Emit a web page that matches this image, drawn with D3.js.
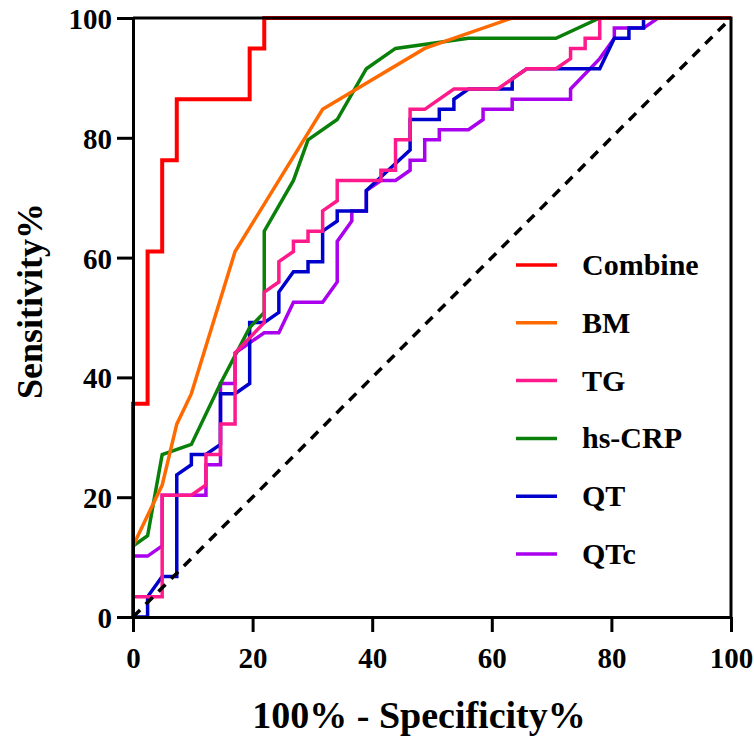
<!DOCTYPE html>
<html>
<head>
<meta charset="utf-8">
<script src="https://cdn.jsdelivr.net/npm/d3@7"></script>
<style>
    body { margin: 0; background: #fff; }
    svg { display: block; font-family: "Liberation Serif", "Times New Roman", serif; font-weight: bold; }
</style>
</head>
<body>
<div id="chart"></div>
<script>
// ROC points: [100% - specificity, sensitivity]
const combinePts = [[0,0],[0,35.59],[2.44,35.59],[2.44,61.02],[4.88,61.02],[4.88,76.27],[7.32,76.27],[7.32,86.44],
    [19.51,86.44],[19.51,94.92],[21.95,94.92],[21.95,100],[100,100]];

const bmPts = [[0,11.86],[4.88,22.03],[7.32,32.2],[9.76,37.29],[17.07,61.02],[31.71,84.75],[48.78,94.92],[63.41,100],[100,100]];

const tgPts = [[0,0],[0,3.39],[4.88,3.39],[4.88,20.34],[9.76,20.34],[12.2,22.03],[12.2,27.12],[14.63,27.12],[14.63,32.2],
    [17.07,32.2],[17.07,44.07],[21.95,49.15],[21.95,54.24],[24.39,55.93],[24.39,59.32],[26.83,61.02],[26.83,62.71],
    [29.27,62.71],[29.27,64.41],[31.71,64.41],[31.71,67.8],[34.15,69.49],[34.15,72.88],[41.46,72.88],[41.46,74.58],
    [43.9,74.58],[43.9,79.66],[46.34,79.66],[46.34,84.75],[48.78,84.75],[53.66,88.14],[60.98,88.14],[65.85,91.53],
    [70.73,91.53],[73.17,93.22],[73.17,94.92],[75.61,94.92],[75.61,96.61],[78.05,96.61],[78.05,100],[100,100]];

const crpPts = [[0,11.86],[2.44,13.56],[4.88,27.12],[9.76,28.81],[14.63,38.98],[19.51,48.31],[21.95,50.85],[21.95,64.41],
    [26.83,72.88],[29.27,79.66],[34.15,83.05],[39.02,91.53],[43.9,94.92],[56.1,96.61],[70.73,96.61],[78.05,100],[100,100]];

const qtPts = [[0,0],[2.44,0],[2.44,3.39],[4.88,6.78],[7.32,6.78],[7.32,23.73],[9.76,25.42],[9.76,27.12],[12.2,27.12],
    [14.63,28.81],[14.63,37.29],[17.07,37.29],[19.51,38.98],[19.51,49.15],[21.95,49.15],[24.39,50.85],[24.39,54.24],
    [26.83,57.63],[29.27,57.63],[29.27,59.32],[31.71,59.32],[31.71,64.41],[34.15,66.1],[34.15,67.8],[39.02,67.8],
    [39.02,71.19],[46.34,77.97],[46.34,83.05],[51.22,83.05],[51.22,84.75],[53.66,84.75],[53.66,86.44],[56.1,88.14],
    [63.41,88.14],[63.41,89.83],[65.85,91.53],[78.05,91.53],[80.49,96.61],[82.93,96.61],[82.93,98.31],[85.37,98.31],
    [85.37,100],[100,100]];

const qtcPts = [[0,0],[0,10.17],[2.44,10.17],[4.88,11.86],[4.88,20.34],[12.2,20.34],[12.2,25.42],[14.63,25.42],[14.63,38.98],
    [17.07,38.98],[17.07,44.07],[19.51,45.76],[21.95,47.46],[24.39,47.46],[26.83,52.54],[31.71,52.54],[34.15,55.93],
    [34.15,62.71],[36.59,66.1],[36.59,67.8],[39.02,67.8],[39.02,71.19],[41.46,72.88],[43.9,72.88],[46.34,74.58],
    [46.34,76.27],[48.78,76.27],[48.78,79.66],[51.22,79.66],[51.22,81.36],[56.1,81.36],[58.54,83.05],[58.54,84.75],
    [63.41,84.75],[63.41,86.44],[73.17,86.44],[73.17,88.14],[78.05,93.22],[80.49,96.61],[80.49,98.31],[85.37,98.31],
    [87.8,100],[100,100]];

const seriesNames = ["Combine", "BM", "TG", "hs-CRP", "QT", "QTc"];
const seriesColors = ["#ff0000", "#ff6a00", "#ff1a8c", "#0a800a", "#0000cc", "#aa00ee"];
const seriesPts = [combinePts, bmPts, tgPts, crpPts, qtPts, qtcPts];
// drawing order, bottom first
const drawOrder = ["QTc", "QT", "hs-CRP", "TG", "BM", "Combine"];

const xTicks = [0, 20, 40, 60, 80, 100];
const yTicks = [0, 20, 40, 60, 80, 100];

const width = 754, height = 736;
const margin = { top: 18, right: 23, bottom: 119, left: 133 };

const svg = d3.select("#chart")
    .append("svg")
    .attr("width", width)
    .attr("height", height);

const x = d3.scaleLinear().domain([0, 100]).range([margin.left, width - margin.right]);
const y = d3.scaleLinear().domain([0, 100]).range([height - margin.bottom, margin.top]);

const line = d3.line().x(d => x(d[0])).y(d => y(d[1]));

// curves
const curveGroup = svg.append("g").attr("fill", "none").attr("stroke-linejoin", "miter");
drawOrder.forEach(name => {
    const i = seriesNames.indexOf(name);
    curveGroup.append("path")
        .datum(seriesPts[i])
        .attr("d", line)
        .attr("stroke", seriesColors[i])
        .attr("stroke-width", name === "Combine" ? 4 : 3.5);
});

// reference diagonal
svg.append("line")
    .attr("x1", x(0)).attr("y1", y(0))
    .attr("x2", x(100)).attr("y2", y(100))
    .attr("stroke", "#000")
    .attr("stroke-width", 3.5)
    .attr("stroke-dasharray", "10,8");

// frame (top and right)
svg.append("path")
    .attr("d", `M${x(0)},${y(100)}H${x(100)}V${y(0)}`)
    .attr("fill", "none")
    .attr("stroke", "#000")
    .attr("stroke-width", 3);

const xAxis = svg.append("g")
    .attr("transform", `translate(0,${y(0)})`)
    .call(d3.axisBottom(x).tickValues(xTicks).tickSize(15).tickSizeOuter(0).tickPadding(15));

const yAxis = svg.append("g")
    .attr("transform", `translate(${x(0)},0)`)
    .call(d3.axisLeft(y).tickValues(yTicks).tickSize(16).tickSizeOuter(0).tickPadding(5));

[xAxis, yAxis].forEach(ax => {
    ax.selectAll("path, line").attr("stroke", "#000").attr("stroke-width", 3);
    ax.selectAll("text")
        .attr("fill", "#000")
        .style("font-family", "'Liberation Serif', serif")
        .style("font-weight", "bold")
        .style("font-size", "29px");
});
yAxis.selectAll("text").attr("dy", "0.36em");

// axis titles
svg.append("text")
    .attr("x", 419)
    .attr("y", 728)
    .attr("text-anchor", "middle")
    .style("font-size", "38px")
    .text("100% - Specificity%");

svg.append("text")
    .attr("transform", "translate(42,301) rotate(-90)")
    .attr("text-anchor", "middle")
    .style("font-size", "36px")
    .text("Sensitivity%");

// legend
const legend = svg.append("g");
seriesNames.forEach((name, i) => {
    const cy = 265 + i * 57.8;
    legend.append("line")
        .attr("x1", 516).attr("x2", 557)
        .attr("y1", cy).attr("y2", cy)
        .attr("stroke", seriesColors[i])
        .attr("stroke-width", 3.5);
    legend.append("text")
        .attr("x", 582)
        .attr("y", cy + 10)
        .style("font-size", "30px")
        .text(name);
});
</script>
</body>
</html>
